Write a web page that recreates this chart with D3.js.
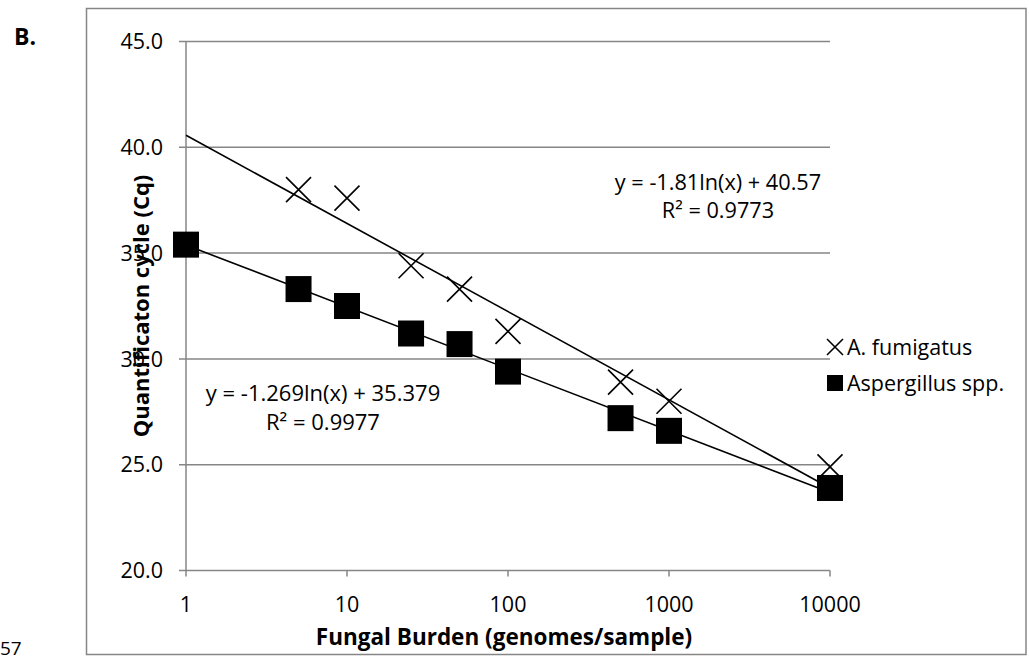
<!DOCTYPE html>
<html>
<head>
<meta charset="utf-8">
<script src="https://cdn.jsdelivr.net/npm/d3@7"></script>
<style>
  body { margin: 0; background: #fff; }
  text { font-family: "Open Sans", "Liberation Sans", sans-serif; fill: #000; }
</style>
</head>
<body>
<svg id="chart" width="1029" height="662"></svg>
<script>
/// DATA ///
var burdenSpp = [1, 5, 10, 25, 50, 100, 500, 1000, 10000];
var cqSpp = [35.4, 33.3, 32.5, 31.2, 30.7, 29.4, 27.2, 26.6, 23.9];
var burdenFum = [5, 10, 25, 50, 100, 500, 1000, 10000];
var cqFum = [38.0, 37.6, 34.4, 33.3, 31.3, 28.9, 28.0, 24.9];

// trendline coefficients: y = a*ln(x) + b
var trendFum = [-1.81, 40.57];
var trendSpp = [-1.269, 35.379];
var trendRange = [1, 10000];

var xTicks = [1, 10, 100, 1000, 10000];
var yTicks = [20, 25, 30, 35, 40, 45];
var seriesNames = ["A. fumigatus", "Aspergillus spp."];

var GRID = "#868686";

var svg = d3.select("#chart");
var margin = { left: 186, top: 41.5 };
var width = 644;
var height = 529;

// outer frame
svg
  .append("rect")
  .attr("x", 86.5)
  .attr("y", 8.5)
  .attr("width", 939.5)
  .attr("height", 646)
  .attr("fill", "none")
  .attr("stroke", GRID)
  .attr("stroke-width", 1.5);

var plot = svg
  .append("g")
  .attr("transform", "translate(" + margin.left + "," + margin.top + ")");

var x = d3.scaleLog().domain([1, 10000]).range([0, width]);
var y = d3.scaleLinear().domain([20, 45]).range([height, 0]);

// gridlines
plot
  .selectAll(".grid")
  .data(yTicks)
  .enter()
  .append("line")
  .attr("class", "grid")
  .attr("x1", -7)
  .attr("x2", width)
  .attr("y1", function (d) { return y(d); })
  .attr("y2", function (d) { return y(d); })
  .attr("stroke", GRID)
  .attr("stroke-width", 1.5);

// y axis line
plot
  .append("line")
  .attr("x1", 0)
  .attr("x2", 0)
  .attr("y1", 0)
  .attr("y2", height)
  .attr("stroke", GRID)
  .attr("stroke-width", 1.5);

// x ticks
plot
  .selectAll(".xtick")
  .data(xTicks)
  .enter()
  .append("line")
  .attr("class", "xtick")
  .attr("x1", function (d) { return x(d); })
  .attr("x2", function (d) { return x(d); })
  .attr("y1", height)
  .attr("y2", height + 6)
  .attr("stroke", GRID)
  .attr("stroke-width", 1.5);

// tick labels
plot
  .selectAll(".ylabel")
  .data(yTicks)
  .enter()
  .append("text")
  .attr("x", -23)
  .attr("y", function (d) { return y(d); })
  .attr("dy", "0.36em")
  .attr("text-anchor", "end")
  .style("font-size", "21.5px")
  .text(function (d) { return d3.format(".1f")(d); });

plot
  .selectAll(".xlabel")
  .data(xTicks)
  .enter()
  .append("text")
  .attr("x", function (d) { return x(d); })
  .attr("y", height + 34)
  .attr("dy", "0.36em")
  .attr("text-anchor", "middle")
  .style("font-size", "21.5px")
  .text(function (d) { return d; });

// trendlines
var line = d3
  .line()
  .x(function (d) { return x(d[0]); })
  .y(function (d) { return y(d[1]); });

[trendFum, trendSpp].forEach(function (c) {
  var pts = trendRange.map(function (v) { return [v, c[0] * Math.log(v) + c[1]]; });
  plot
    .append("path")
    .attr("d", line(pts))
    .attr("fill", "none")
    .attr("stroke", "#000")
    .attr("stroke-width", 1.6);
});

// HELPER FUNCTION: draws an X marker
function crossPath(cx, cy, r) {
  return "M" + (cx - r) + "," + (cy - r) + "L" + (cx + r) + "," + (cy + r) +
    "M" + (cx - r) + "," + (cy + r) + "L" + (cx + r) + "," + (cy - r);
}

// A. fumigatus markers
plot
  .selectAll(".fum")
  .data(burdenFum)
  .enter()
  .append("path")
  .attr("class", "fum")
  .attr("d", function (d, i) { return crossPath(x(d), y(cqFum[i]), 12.5); })
  .attr("stroke", "#000")
  .attr("stroke-width", 1.6)
  .attr("fill", "none");

// Aspergillus spp. markers
plot
  .selectAll(".spp")
  .data(burdenSpp)
  .enter()
  .append("rect")
  .attr("class", "spp")
  .attr("x", function (d) { return x(d) - 13; })
  .attr("y", function (d, i) { return y(cqSpp[i]) - 13; })
  .attr("width", 26)
  .attr("height", 26)
  .attr("fill", "#000");

// equation labels
var eqFum = plot.append("text").attr("text-anchor", "middle").style("font-size", "21.7px");
eqFum.append("tspan").attr("x", 532).attr("y", 148).text("y = -1.81ln(x) + 40.57");
eqFum.append("tspan").attr("x", 532).attr("y", 176).text("R² = 0.9773");

var eqSpp = plot.append("text").attr("text-anchor", "middle").style("font-size", "22px");
eqSpp.append("tspan").attr("x", 137).attr("y", 359).text("y = -1.269ln(x) + 35.379");
eqSpp.append("tspan").attr("x", 137).attr("y", 388).text("R² = 0.9977");

// legend
var legend = svg.append("g");
legend
  .append("path")
  .attr("d", crossPath(835, 347, 8))
  .attr("stroke", "#000")
  .attr("stroke-width", 1.6);
legend
  .append("rect")
  .attr("x", 827)
  .attr("y", 375)
  .attr("width", 16)
  .attr("height", 16)
  .attr("fill", "#000");
legend
  .selectAll(".legtext")
  .data(seriesNames)
  .enter()
  .append("text")
  .attr("x", 847)
  .attr("y", function (d, i) { return 347 + i * 36; })
  .attr("dy", "0.36em")
  .style("font-size", "21.5px")
  .text(function (d) { return d; });

// axis titles
svg
  .append("text")
  .attr("x", 504)
  .attr("y", 637)
  .attr("dy", "0.36em")
  .attr("text-anchor", "middle")
  .style("font-size", "22.5px")
  .style("font-weight", "bold")
  .text("Fungal Burden (genomes/sample)");

svg
  .append("text")
  .attr("transform", "translate(141," + (margin.top + height / 2) + ") rotate(-90)")
  .attr("dy", "0.36em")
  .attr("text-anchor", "middle")
  .style("font-size", "22px")
  .style("font-weight", "bold")
  .text("Quantificaton cycle (Cq)");

// panel label and stray line number
svg
  .append("text")
  .attr("x", 14)
  .attr("y", 45)
  .style("font-size", "23px")
  .style("font-weight", "bold")
  .text("B.");

svg
  .append("text")
  .attr("x", 0)
  .attr("y", 655)
  .style("font-size", "19px")
  .text("57");
</script>
</body>
</html>
